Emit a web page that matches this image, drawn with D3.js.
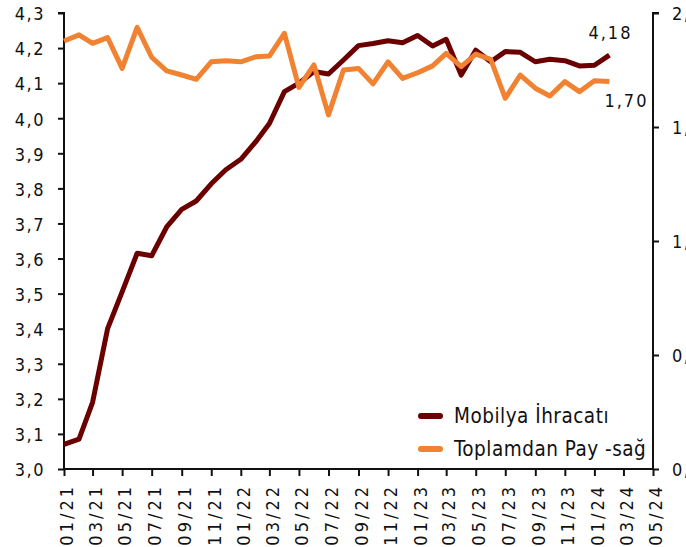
<!DOCTYPE html>
<html>
<head>
<meta charset="utf-8">
<script src="https://cdn.jsdelivr.net/npm/d3@7"></script>
<style>
  body { margin: 0; background: #fff; }
  svg text { font-family: "DejaVu Sans Condensed", "DejaVu Sans", sans-serif; fill: #111; }
</style>
</head>
<body>
<svg id="chart" width="686" height="547"></svg>
<script>
// months 01/21 .. 02/24
var months = d3.range(38).map(function(i){ return new Date(2021, i, 1); });

var ihracat = [3.07, 3.085, 3.19, 3.40, 3.505, 3.615, 3.608, 3.69, 3.74, 3.764,
  3.813, 3.853, 3.883, 3.933, 3.985, 4.076, 4.10, 4.133, 4.126, 4.166,
  4.207, 4.213, 4.221, 4.215, 4.236, 4.206, 4.225, 4.123, 4.194, 4.161,
  4.19, 4.188, 4.161, 4.168, 4.164, 4.149, 4.151, 4.18];

var pay = [1.877, 1.904, 1.867, 1.892, 1.757, 1.937, 1.806, 1.746, 1.728, 1.709,
  1.786, 1.791, 1.786, 1.808, 1.811, 1.911, 1.674, 1.772, 1.553, 1.75,
  1.757, 1.689, 1.786, 1.713, 1.738, 1.768, 1.823, 1.765, 1.82, 1.797,
  1.626, 1.728, 1.67, 1.636, 1.699, 1.655, 1.703, 1.70];

var leftTicks = d3.range(30, 44).map(function(d){ return d / 10; });
var rightTicks = [0, 0.5, 1, 1.5, 2];
var seriesNames = ["Mobilya İhracatı", "Toplamdan Pay -sağ"];
var colors = ["#6b0000", "#f08232"];

var svg = d3.select("#chart");
var mL = 64, mR = 653, mT = 13, mB = 469;

var x = d3.scaleTime().domain([new Date(2021, 0, 1), new Date(2024, 4, 1)]).range([mL, mR]);
var yL = d3.scaleLinear().domain([3.0, 4.3]).range([mB, mT]);
var yR = d3.scaleLinear().domain([0, 2]).range([mB, mT]);

var fmt = function(d, n){ return d3.format("." + n + "f")(d).replace(".", ","); };

// axes
var gl = svg.append("g").attr("transform", "translate(" + mL + ",0)")
  .call(d3.axisLeft(yL).tickValues(leftTicks).tickSize(6).tickPadding(13).tickFormat(function(d){ return fmt(d, 1); }));
var gr = svg.append("g").attr("transform", "translate(" + mR + ",0)")
  .call(d3.axisRight(yR).tickValues(rightTicks).tickSize(6).tickPadding(13).tickFormat(function(d){ return fmt(d, 1); }));
var xTicks = d3.range(0, 41, 2).map(function(i){ return new Date(2021, i, 1); });
var gx = svg.append("g").attr("transform", "translate(0," + mB + ")")
  .call(d3.axisBottom(x).tickValues(xTicks).tickSize(7).tickFormat(d3.timeFormat("%m/%y")));

[gl, gr, gx].forEach(function(g){
  g.select(".domain").attr("stroke", "#111").attr("stroke-width", 2);
  g.selectAll(".tick line").attr("stroke", "#111").attr("stroke-width", 2);
  g.selectAll("text").style("font-size", "18px").style("letter-spacing", "1.5px").attr("fill", "#111");
});
gx.select(".domain").attr("d", "M" + mL + ",0H" + mR);
gl.select(".domain").attr("d", "M-6," + mT + "H0V" + mB);
gr.select(".domain").attr("d", "M6," + mT + "H0V" + mB);
gl.selectAll("text").attr("dy", "0.38em");
gr.selectAll("text").attr("dy", "0.38em");
gx.selectAll("text")
  .attr("transform", "rotate(-90)")
  .attr("text-anchor", "end")
  .attr("x", -15)
  .attr("y", 2.5)
  .attr("dy", "0.35em")
  .style("letter-spacing", "3px");

// lines
var lineL = d3.line().x(function(d, i){ return x(months[i]); }).y(function(d){ return yL(d); });
var lineR = d3.line().x(function(d, i){ return x(months[i]); }).y(function(d){ return yR(d); });

svg.append("path").datum(ihracat).attr("d", lineL)
  .attr("fill", "none").attr("stroke", colors[0]).attr("stroke-width", 5).attr("stroke-linejoin", "round");
svg.append("path").datum(pay).attr("d", lineR)
  .attr("fill", "none").attr("stroke", colors[1]).attr("stroke-width", 5).attr("stroke-linejoin", "round");

// end labels
var n = months.length - 1;
svg.append("text").attr("x", x(months[n]) - 21).attr("y", yL(ihracat[n]) - 16)
  .style("font-size", "18px").style("letter-spacing", "2px").text(fmt(ihracat[n], 2));
svg.append("text").attr("x", x(months[n]) - 5).attr("y", yR(pay[n]) + 26)
  .style("font-size", "18px").style("letter-spacing", "2px").text(fmt(pay[n], 2));

// legend
var legend = svg.append("g");
seriesNames.forEach(function(name, i){
  var ly = 416 + i * 33;
  legend.append("line").attr("x1", 421).attr("x2", 440).attr("y1", ly).attr("y2", ly)
    .attr("stroke", colors[i]).attr("stroke-width", 6).attr("stroke-linecap", "round");
  legend.append("text").attr("x", 454).attr("y", ly).attr("dy", "0.36em")
    .style("font-size", "20.5px").style("letter-spacing", "0.5px").text(name);
});
</script>
</body>
</html>
